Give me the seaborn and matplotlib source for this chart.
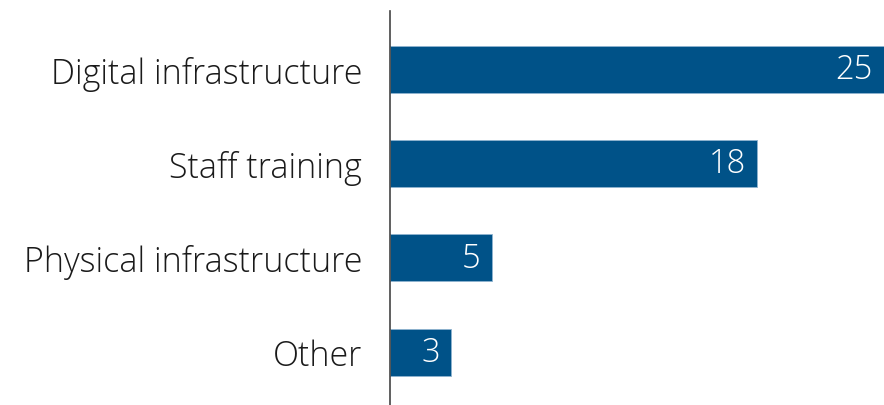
import matplotlib
matplotlib.use("Agg")
import seaborn as sns
import pandas as pd
from matplotlib import pyplot as plt

categories = ["Digital infrastructure", "Staff training", "Physical infrastructure", "Other"]
values = [25, 18, 5, 3]

df = pd.DataFrame({"category": categories, "value": values})

sns.set_style("white")
plt.rcParams["font.family"] = ["Open Sans", "DejaVu Sans"]

fig = plt.figure(figsize=(8.84, 4.06), dpi=100)
ax = fig.add_axes([0.441, 0.0, 0.559, 0.970])

bar_color = "#005288"
sns.barplot(data=df, y="category", x="value", orient="h", color=bar_color,
            saturation=1, width=0.5, edgecolor="#8fb3d0", linewidth=0.6, ax=ax)

xmax = 24.2
ax.set_xlim(0, xmax)
ax.set_ylim(3.56, -0.615)

# value labels inside the bar ends
for i, v in enumerate(values):
    ax.annotate(str(v), xy=(min(v, xmax), i), xytext=(-8, 0), textcoords="offset points",
                ha="right", va="center", color="white", fontsize=23.5, fontweight="light")

ax.set_xlabel("")
ax.set_ylabel("")
ax.set_xticks([])
ax.tick_params(axis="y", length=0, pad=20, labelsize=24.5)
for lbl in ax.get_yticklabels():
    lbl.set_fontweight("light")
    lbl.set_color("#1a1a1a")

sns.despine(ax=ax, top=True, right=True, bottom=True)
ax.spines["left"].set_color("#444444")
ax.spines["left"].set_linewidth(1.2)

fig.savefig("out.png", dpi=100)
